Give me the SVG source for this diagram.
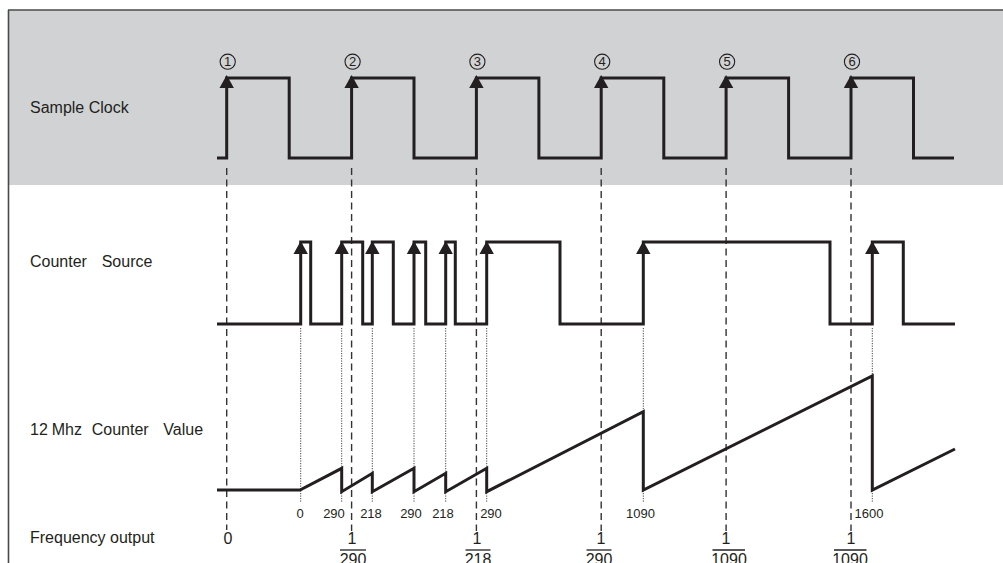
<svg xmlns="http://www.w3.org/2000/svg" width="1003" height="563" viewBox="0 0 1003 563">
<style>
.lbl{font-family:"Liberation Sans",Arial,sans-serif;font-size:16px;fill:#231f20}
.num{font-family:"Liberation Sans",Arial,sans-serif;font-size:13px;fill:#231f20;text-anchor:middle}
.frac{font-family:"Liberation Sans",Arial,sans-serif;font-size:16px;fill:#231f20;text-anchor:middle}
.sig{fill:none;stroke:#231f20;stroke-width:3;stroke-linejoin:miter}
.dash{stroke:#333;stroke-width:1.4;stroke-dasharray:7 4.5;fill:none}
.dot{stroke:#444;stroke-width:1;stroke-dasharray:1.2 1.3;fill:none}
.bar{stroke:#231f20;stroke-width:1.3}
.circ{fill:none;stroke:#231f20;stroke-width:1.1}
</style>
<defs>
<path id="arr" d="M0,0 L7.2,13 L-7.2,13 Z" fill="#231f20"/>
</defs>
<g id="frame">
<rect x="9" y="10" width="994" height="175" fill="#d1d2d4"/>
<line x1="8" y1="10" x2="1003" y2="10" stroke="#4a4a4a" stroke-width="1.6"/>
<line x1="8.5" y1="10" x2="8.5" y2="563" stroke="#4a4a4a" stroke-width="1.6"/>
</g>
<g id="connectors">
<line class="dash" x1="226.7" y1="168" x2="226.7" y2="530"/>
<line class="dash" x1="351.6" y1="168" x2="351.6" y2="531"/>
<line class="dash" x1="476.4" y1="168" x2="476.4" y2="531"/>
<line class="dash" x1="601.2" y1="168" x2="601.2" y2="531"/>
<line class="dash" x1="726.1" y1="168" x2="726.1" y2="531"/>
<line class="dash" x1="851" y1="168" x2="851" y2="531"/>
<line class="dot" x1="300.7" y1="328" x2="300.7" y2="502"/>
<line class="dot" x1="341.7" y1="328" x2="341.7" y2="502"/>
<line class="dot" x1="372.3" y1="328" x2="372.3" y2="502"/>
<line class="dot" x1="414" y1="328" x2="414" y2="502"/>
<line class="dot" x1="445.7" y1="328" x2="445.7" y2="502"/>
<line class="dot" x1="486.7" y1="328" x2="486.7" y2="502"/>
<line class="dot" x1="643.3" y1="328" x2="643.3" y2="502"/>
<line class="dot" x1="872.3" y1="328" x2="872.3" y2="502"/>
</g>
<g id="sample-clock">
<text class="lbl" x="30" y="113">Sample Clock</text>
<path class="sig" d="M217,158 H226.7 V78 H289.2 V158 H351.6 V78 H414 V158 H476.4 V78 H538.9 V158 H601.2 V78 H663.8 V158 H726.1 V78 H788.6 V158 H851 V78 H913.5 V158 H954"/>
<use href="#arr" x="226.7" y="75"/>
<use href="#arr" x="351.6" y="75"/>
<use href="#arr" x="476.4" y="75"/>
<use href="#arr" x="601.2" y="75"/>
<use href="#arr" x="726.1" y="75"/>
<use href="#arr" x="851" y="75"/>
<circle class="circ" cx="227.7" cy="61.7" r="7.6"/>
<circle class="circ" cx="352.6" cy="61.7" r="7.6"/>
<circle class="circ" cx="477.4" cy="61.7" r="7.6"/>
<circle class="circ" cx="602.2" cy="61.7" r="7.6"/>
<circle class="circ" cx="727.1" cy="61.7" r="7.6"/>
<circle class="circ" cx="852" cy="61.7" r="7.6"/>
<text class="num" x="227.7" y="66.3">1</text>
<text class="num" x="352.6" y="66.3">2</text>
<text class="num" x="477.4" y="66.3">3</text>
<text class="num" x="602.2" y="66.3">4</text>
<text class="num" x="727.1" y="66.3">5</text>
<text class="num" x="852" y="66.3">6</text>
</g>
<g id="counter-source">
<text class="lbl" x="30" y="267">Counter <tspan x="101.7">Source</tspan></text>
<path class="sig" d="M217,324 H300.7 V242 H310.7 V324 H341.7 V242 H362.7 V324 H372.3 V242 H393.3 V324 H414 V242 H425.7 V324 H445.7 V242 H455.3 V324 H486.7 V242 H560 V324 H643.3 V242 H830 V324 H872.3 V242 H903.3 V324 H955"/>
<use href="#arr" x="300.7" y="241"/>
<use href="#arr" x="341.7" y="241"/>
<use href="#arr" x="372.3" y="241"/>
<use href="#arr" x="414" y="241"/>
<use href="#arr" x="445.7" y="241"/>
<use href="#arr" x="486.7" y="241"/>
<use href="#arr" x="643.3" y="241"/>
<use href="#arr" x="872.3" y="241"/>
</g>
<g id="counter-value">
<text class="lbl" x="30" y="435">12 <tspan x="51.7">Mhz</tspan> <tspan x="91.7">Counter</tspan> <tspan x="163.3">Value</tspan></text>
<path class="sig" d="M217,490 H300 L341.7,468.3 V491.7 L372.3,473.3 V491.7 L414,468.3 V491.7 L445.7,473.3 V491.7 L486.7,468.3 V491.7 L643.3,411.7 V490 L872.3,376 V490 L955,449"/>
<text class="num" x="300" y="518">0</text>
<text class="num" x="334" y="518">290</text>
<text class="num" x="371" y="518">218</text>
<text class="num" x="411" y="518">290</text>
<text class="num" x="443" y="518">218</text>
<text class="num" x="491" y="518">290</text>
<text class="num" x="640.5" y="518">1090</text>
<text class="num" x="869" y="518">1600</text>
</g>
<g id="frequency-output">
<text class="lbl" x="30" y="543">Frequency output</text>
<text class="frac" x="228" y="544">0</text>
<text class="frac" x="352" y="544">1</text>
<line class="bar" x1="340" y1="550" x2="366" y2="550"/>
<text class="frac" x="353" y="565">290</text>
<text class="frac" x="477" y="544">1</text>
<line class="bar" x1="465.5" y1="550" x2="490.5" y2="550"/>
<text class="frac" x="478" y="565">218</text>
<text class="frac" x="601" y="544">1</text>
<line class="bar" x1="586.5" y1="550" x2="611.5" y2="550"/>
<text class="frac" x="599" y="565">290</text>
<text class="frac" x="726" y="544">1</text>
<line class="bar" x1="712.5" y1="550" x2="745" y2="550"/>
<text class="frac" x="729" y="565">1090</text>
<text class="frac" x="851" y="544">1</text>
<line class="bar" x1="834" y1="550" x2="866.5" y2="550"/>
<text class="frac" x="850" y="565">1090</text>
</g>
</svg>
